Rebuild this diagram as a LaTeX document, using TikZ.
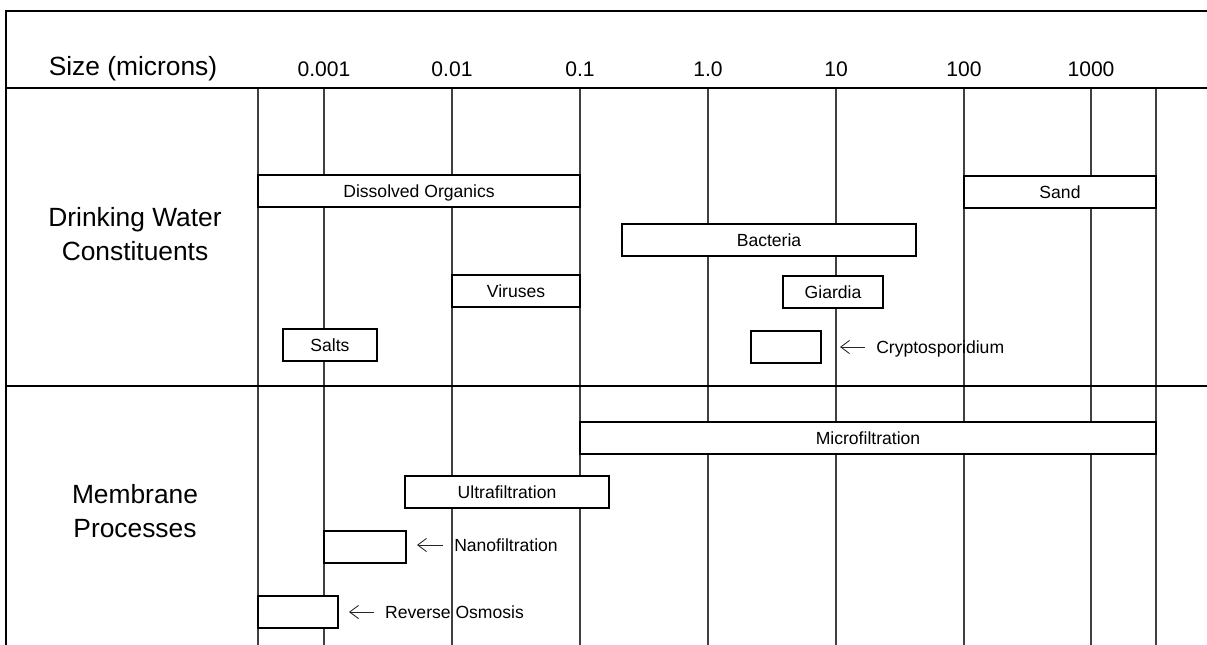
\documentclass[tikz,border=0pt]{standalone}
\usepackage{fontspec}
\setmainfont{Liberation Sans}
\usetikzlibrary{arrows.meta}

\begin{document}
\begin{tikzpicture}[
  x=0.02cm, y=-0.02cm,
  rule/.style={line width=1.6pt},
  grid/.style={line width=0.6pt,black!75},
  bar/.style={draw,fill=white,line width=1.1pt,minimum height=0.64cm,inner sep=0pt,
    text height=7.2pt,text depth=0pt,font=\fontsize{10}{12}\selectfont},
  note/.style={anchor=west,inner xsep=6.2pt,inner ysep=0pt,
    text height=7.2pt,text depth=0pt,font=\fontsize{10}{12}\selectfont},
  tick/.style={font=\fontsize{12}{14}\selectfont},
  head/.style={align=center,font=\fontsize{15}{19.3}\selectfont},
  pointer/.style={-{Straight Barb[length=5pt,width=7.5pt]},line width=0.5pt,black!85}
]
  \useasboundingbox (0,0) rectangle (1207,645);

  % size scale
  \foreach \x in {258,324,452,580,708,836,964,1091,1156}
    \draw[grid] (\x,88) -- (\x,645);
  \draw[rule] (1207,11) -- (6,11) -- (6,645);
  \draw[rule] (6,88) -- (1207,88);
  \draw[rule] (6,386) -- (1207,386);

  \node[head,anchor=base] (size) at (133,76) {Size (microns)};
  \foreach \x/\t [count=\i] in {324/0.001,452/0.01,580/0.1,708/1.0,836/10,964/100,1091/1000}
    \node[tick] (t\i) at (\x,69) {\t};

  \node[head] (water) at (135,234) {Drinking Water\\Constituents};
  \node[head] (membr) at (135,511) {Membrane\\Processes};

  % drinking water constituents
  \node[bar,minimum width=6.44cm] (org)  at (419,191)  {Dissolved Organics};
  \node[bar,minimum width=3.84cm] (sand) at (1060,192) {Sand};
  \node[bar,minimum width=5.88cm] (bact) at (769,240)  {Bacteria};
  \node[bar,minimum width=2.56cm] (vir)  at (516,291)  {Viruses};
  \node[bar,minimum width=2.0cm]  (giar) at (833,292)  {Giardia};
  \node[bar,minimum width=1.88cm] (salt) at (330,345)  {Salts};
  \node[bar,minimum width=1.4cm]  (cryp) at (786,347)  {};
  \node[note] (crypL) at (865,347) {Cryptosporidium};
  \coordinate (crypA) at (840,347);
  \draw[pointer] (crypL.west) -- (crypA);

  % membrane processes
  \node[bar,minimum width=11.52cm] (mf) at (868,438) {Microfiltration};
  \node[bar,minimum width=4.08cm]  (uf) at (507,492) {Ultrafiltration};
  \node[bar,minimum width=1.64cm]  (nf) at (365,547) {};
  \node[note] (nfL) at (443,545) {Nanofiltration};
  \coordinate (nfA) at (417,545);
  \draw[pointer] (nfL.west) -- (nfA);
  \node[bar,minimum width=1.6cm]   (ro) at (298,612) {};
  \node[note] (roL) at (374,612) {Reverse Osmosis};
  \coordinate (roA) at (349,612);
  \draw[pointer] (roL.west) -- (roA);
\end{tikzpicture}
\end{document}
